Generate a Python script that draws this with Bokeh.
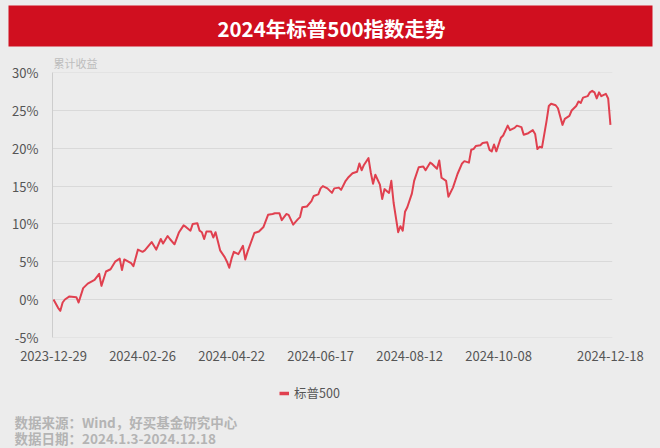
from bokeh.plotting import figure
from bokeh.layouts import column, row
from bokeh.models import (Label, BoxAnnotation, Legend, LegendItem, FixedTicker,
                          PrintfTickFormatter, Range1d, Title)
from bokeh.embed import file_html
from bokeh.resources import INLINE

# ---------------- data ----------------
title_text = "2024年标普500指数走势"
series_name = "标普500"
y_axis_title = "累计收益"
source_note = "数据来源：Wind，好买基金研究中心"
date_note = "数据日期：2024.1.3-2024.12.18"

tick_idx = [0, 39, 78, 117, 156, 195, 244]
tick_labels = ["2023-12-29", "2024-02-26", "2024-04-22", "2024-06-17",
               "2024-08-12", "2024-10-08", "2024-12-18"]
y_ticks = [-5, 0, 5, 10, 15, 20, 25, 30]

# trading-day index (0 = 2023-12-29) and cumulative return in %
day_idx = [0, 2, 3, 4, 5, 7, 10, 11, 13, 15, 18, 20, 21, 23, 25, 27, 29, 30, 31, 34,
           35, 37, 39, 40, 43, 45, 47, 48, 50, 51, 53, 55, 57, 58, 60, 61, 63, 64, 65, 66,
           67, 69, 70, 71, 73, 75, 76, 77, 78, 79, 81, 83, 84, 85, 88, 90, 91, 92, 94, 96,
           97, 99, 100, 102, 103, 105, 107, 108, 109, 111, 113, 114, 116, 117, 118, 120, 122, 123, 125, 126,
           128, 129, 131, 133, 134, 135, 136, 138, 139, 140, 141, 143, 144, 145, 147, 148, 149, 151, 152, 153,
           154, 155, 157, 158, 160, 162, 163, 165, 166, 168, 169, 170, 172, 173, 175, 177, 179, 180, 182, 183,
           184, 185, 187, 188, 190, 191, 192, 193, 194, 196, 197, 199, 200, 202, 203, 205, 206, 208, 210, 211,
           212, 213, 214, 216, 217, 218, 220, 221, 223, 224, 226, 227, 229, 230, 231, 232, 234, 235, 236, 237,
           238, 239, 240, 242, 243, 244]
cum_return = [0.0, -1.1, -1.5, -0.4, 0.0, 0.4, 0.3, -0.4, 1.5, 2.1, 2.6, 3.4, 1.8, 3.7, 4.0, 5.0, 5.4, 3.9, 5.3, 4.8,
              4.4, 6.6, 6.3, 6.5, 7.6, 6.6, 8.0, 7.4, 8.4, 8.0, 7.3, 8.9, 9.8, 9.6, 9.1, 10.0, 10.1, 9.1, 8.9, 8.0,
              9.0, 9.0, 8.2, 8.9, 6.5, 5.6, 5.0, 4.2, 5.4, 6.3, 6.0, 7.1, 5.3, 6.3, 8.8, 9.0, 9.3, 9.6, 11.2, 11.3,
              11.4, 11.4, 10.5, 11.3, 11.2, 9.9, 10.6, 10.9, 12.2, 12.3, 13.0, 13.7, 13.9, 14.7, 15.0, 14.7, 14.1, 14.7, 14.8, 14.5,
              15.7, 16.1, 16.7, 16.9, 18.0, 17.1, 17.8, 18.7, 16.8, 15.3, 16.5, 15.2, 13.3, 14.6, 14.1, 15.7, 12.8, 8.9, 9.7, 9.1,
              11.6, 12.2, 14.0, 15.7, 17.5, 17.6, 17.1, 18.1, 17.9, 17.3, 18.4, 16.1, 15.7, 13.6, 14.8, 16.6, 18.0, 18.3, 18.1, 19.8,
              19.9, 20.3, 20.4, 20.7, 20.8, 19.8, 19.6, 20.5, 19.6, 21.4, 21.7, 23.0, 22.4, 22.7, 23.0, 22.8, 21.8, 22.0, 22.4, 21.9,
              19.9, 20.2, 20.1, 23.6, 25.6, 25.9, 25.7, 25.3, 23.1, 23.9, 24.3, 25.0, 25.6, 26.2, 26.0, 26.7, 26.9, 27.4, 27.6, 27.4,
              26.6, 27.4, 26.9, 27.2, 26.6, 23.1]

# ---------------- style ----------------
W = 660
H_TOP, H_MAIN, H_BOT = 50, 320, 78
BG = "#ececec"
RED_BANNER = "#d00f1f"
LINE_RED = "#e0404f"
AXIS_TXT = "#555555"
NOTE_TXT = "#b4b4b4"
FONT = "Noto Sans CJK SC"


def blank(height):
    f = figure(width=W, height=height, output_backend="svg", toolbar_location=None,
               x_range=Range1d(0, W), y_range=Range1d(height, 0),
               x_axis_type=None, y_axis_type=None, min_border=0,
               background_fill_color=BG, border_fill_color=BG, outline_line_color=None)
    f.grid.visible = False
    return f


# ---- title banner ----
top = blank(H_TOP)
top.add_layout(BoxAnnotation(left=8, right=652, top=5, bottom=46,
                             fill_color=RED_BANNER, fill_alpha=1, line_color=None))
top.add_layout(Label(x=331, y=27, text=title_text,
                     text_align="center", text_baseline="middle", text_color="white",
                     text_font=FONT, text_font_style="bold", text_font_size="20.5px"))

# ---- main chart ----
p = figure(width=W, height=H_MAIN, output_backend="svg", toolbar_location=None,
           x_range=Range1d(-0.44, 244.9), y_range=Range1d(-5.03, 30.03),
           min_border_left=52, min_border_right=48, min_border_top=22, min_border_bottom=33,
           background_fill_color=BG, border_fill_color=BG, outline_line_color=None)

p.line(day_idx, cum_return, line_color=LINE_RED, line_width=2, line_join="round")

p.add_layout(Title(text=y_axis_title, align="left", offset=1, standoff=3,
                   text_font=FONT, text_font_size="11px", text_font_style="normal",
                   text_color="#bdbdbd"), "above")

p.xaxis.ticker = FixedTicker(ticks=tick_idx)
p.xaxis.major_label_overrides = {i: s for i, s in zip(tick_idx, tick_labels)}
p.xaxis.axis_line_color = None
p.xaxis.major_tick_line_color = None
p.xaxis.minor_tick_line_color = None
p.xaxis.major_label_standoff = 7
p.xaxis.major_label_text_font = FONT
p.xaxis.major_label_text_font_size = "13px"
p.xaxis.major_label_text_color = AXIS_TXT

p.yaxis.ticker = FixedTicker(ticks=y_ticks)
p.yaxis.formatter = PrintfTickFormatter(format="%d%%")
p.yaxis.axis_line_color = "#cdcdcd"
p.yaxis.major_tick_line_color = None
p.yaxis.minor_tick_line_color = None
p.yaxis.major_label_standoff = 8
p.yaxis.major_label_text_font = FONT
p.yaxis.major_label_text_font_size = "13px"
p.yaxis.major_label_text_color = AXIS_TXT

p.xgrid.grid_line_color = None
p.ygrid.ticker = FixedTicker(ticks=y_ticks)
p.ygrid.grid_line_color = "#d9d9d9"
p.ygrid.grid_line_width = 1

# ---- legend + source notes ----
bot = blank(H_BOT)
proxy = bot.line(day_idx[:1], cum_return[:1], line_color=LINE_RED, line_width=3.5)
legend = Legend(items=[LegendItem(label=series_name, renderers=[proxy])],
                location=(279, 46), orientation="horizontal",
                padding=0, margin=0, spacing=0, label_standoff=5,
                glyph_width=10, glyph_height=16, label_height=16,
                background_fill_alpha=0, border_line_color=None,
                label_text_font=FONT, label_text_font_size="12.5px",
                label_text_color=AXIS_TXT)
bot.add_layout(legend, "center")
bot.add_layout(Label(x=14, y=51, text=source_note,
                     text_align="left", text_baseline="middle", text_color=NOTE_TXT,
                     text_font=FONT, text_font_style="bold", text_font_size="13.5px"))
bot.add_layout(Label(x=14, y=67, text=date_note,
                     text_align="left", text_baseline="middle", text_color=NOTE_TXT,
                     text_font=FONT, text_font_style="bold", text_font_size="13.5px"))

layout = column(row(top), p, row(bot), spacing=0, styles={"background-color": BG})
open("out.html", "w").write(file_html(layout, INLINE))
